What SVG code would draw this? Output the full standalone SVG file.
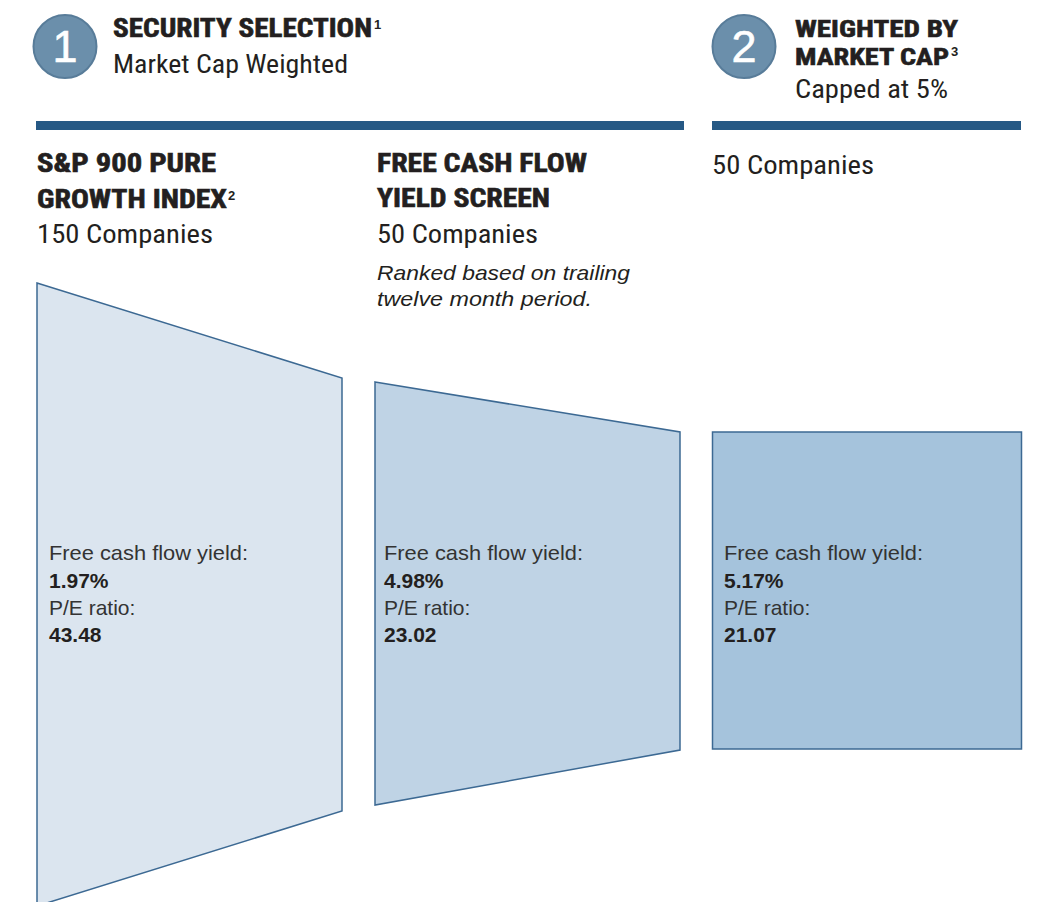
<svg xmlns="http://www.w3.org/2000/svg" width="1060" height="902" viewBox="0 0 1060 902">
<style>
.hd{font-family:"Liberation Sans Narrow","Roboto Condensed","DejaVu Sans Condensed","Liberation Sans",sans-serif;font-weight:bold;font-size:25px;fill:#231f20;stroke:#231f20;stroke-width:0.6}
.hd2{font-size:24px}
.sub{font-family:"Liberation Sans Narrow","Roboto Condensed","DejaVu Sans Condensed","Liberation Sans",sans-serif;font-weight:normal;font-size:26px;fill:#231f20}
.sup{font-family:"Liberation Sans",Arial,sans-serif;font-weight:bold;font-size:13px;fill:#231f20}
.num{font-family:"Liberation Sans",Arial,sans-serif;font-size:45px;fill:#ffffff;text-anchor:middle;stroke:#ffffff;stroke-width:0.6}
.circ{fill:#6b8fab;stroke:#587c99;stroke-width:2}
.bar{fill:#265985}
.it{font-family:"Liberation Sans",Arial,sans-serif;font-style:italic;font-size:21px;fill:#231f20}
.lbl{font-family:"Liberation Sans",Arial,sans-serif;font-size:21px;fill:#333333}
.val{font-family:"Liberation Sans",Arial,sans-serif;font-weight:bold;font-size:21px;fill:#231f20}
.shape{stroke:#3c6993;stroke-width:1.5;stroke-linejoin:miter}
</style>
<rect x="0" y="0" width="1060" height="902" fill="#ffffff"/>

<g id="step1">
  <circle class="circ" cx="65" cy="46.5" r="31.5"/>
  <text class="num" x="65" y="62">1</text>
  <text class="hd" x="113" y="37" textLength="259" lengthAdjust="spacingAndGlyphs">SECURITY SELECTION</text>
  <text class="sup" x="374" y="29">1</text>
  <text class="sub" x="113" y="73" textLength="235" lengthAdjust="spacingAndGlyphs">Market Cap Weighted</text>
  <rect class="bar" x="36" y="121" width="648" height="9"/>
</g>

<g id="step2">
  <circle class="circ" cx="744" cy="46.5" r="31.5"/>
  <text class="num" x="744" y="62">2</text>
  <text class="hd hd2" x="795" y="36.5" textLength="163" lengthAdjust="spacingAndGlyphs">WEIGHTED BY</text>
  <text class="hd hd2" x="795" y="65" textLength="154" lengthAdjust="spacingAndGlyphs">MARKET CAP</text>
  <text class="sup" x="951" y="56">3</text>
  <text class="sub" x="795" y="98" textLength="153" lengthAdjust="spacingAndGlyphs">Capped at 5%</text>
  <rect class="bar" x="712" y="121" width="309" height="9"/>
</g>

<g id="index">
  <text class="hd" x="37" y="172" textLength="179" lengthAdjust="spacingAndGlyphs">S&amp;P 900 PURE</text>
  <text class="hd" x="37" y="208" textLength="190" lengthAdjust="spacingAndGlyphs">GROWTH INDEX</text>
  <text class="sup" x="228" y="200">2</text>
  <text class="sub" x="37" y="243" textLength="176" lengthAdjust="spacingAndGlyphs">150 Companies</text>
  <polygon class="shape" fill="#dbe5ef" points="37,283 342,378 342,811 37,906"/>
  <text class="lbl" x="49" y="560" textLength="199" lengthAdjust="spacingAndGlyphs">Free cash flow yield:</text>
  <text class="val" x="49" y="588">1.97%</text>
  <text class="lbl" x="49" y="615">P/E ratio:</text>
  <text class="val" x="49" y="642">43.48</text>
</g>

<g id="screen">
  <text class="hd" x="377" y="172" textLength="210" lengthAdjust="spacingAndGlyphs">FREE CASH FLOW</text>
  <text class="hd" x="377" y="207" textLength="173" lengthAdjust="spacingAndGlyphs">YIELD SCREEN</text>
  <text class="sub" x="377" y="243" textLength="161" lengthAdjust="spacingAndGlyphs">50 Companies</text>
  <text class="it" x="377" y="280" textLength="253" lengthAdjust="spacingAndGlyphs">Ranked based on trailing</text>
  <text class="it" x="377" y="306" textLength="215" lengthAdjust="spacingAndGlyphs">twelve month period.</text>
  <polygon class="shape" fill="#bfd3e5" points="375,382 680,432 680,750 375,805"/>
  <text class="lbl" x="384" y="560" textLength="199" lengthAdjust="spacingAndGlyphs">Free cash flow yield:</text>
  <text class="val" x="384" y="588">4.98%</text>
  <text class="lbl" x="384" y="615">P/E ratio:</text>
  <text class="val" x="384" y="642">23.02</text>
</g>

<g id="weighted">
  <text class="sub" x="712" y="174" textLength="162" lengthAdjust="spacingAndGlyphs">50 Companies</text>
  <rect class="shape" fill="#a5c3dc" x="712.5" y="432" width="309" height="317" stroke="#2e5b86"/>
  <text class="lbl" x="724" y="560" textLength="199" lengthAdjust="spacingAndGlyphs">Free cash flow yield:</text>
  <text class="val" x="724" y="588">5.17%</text>
  <text class="lbl" x="724" y="615">P/E ratio:</text>
  <text class="val" x="724" y="642">21.07</text>
</g>

<g id="connectors"/>
</svg>
